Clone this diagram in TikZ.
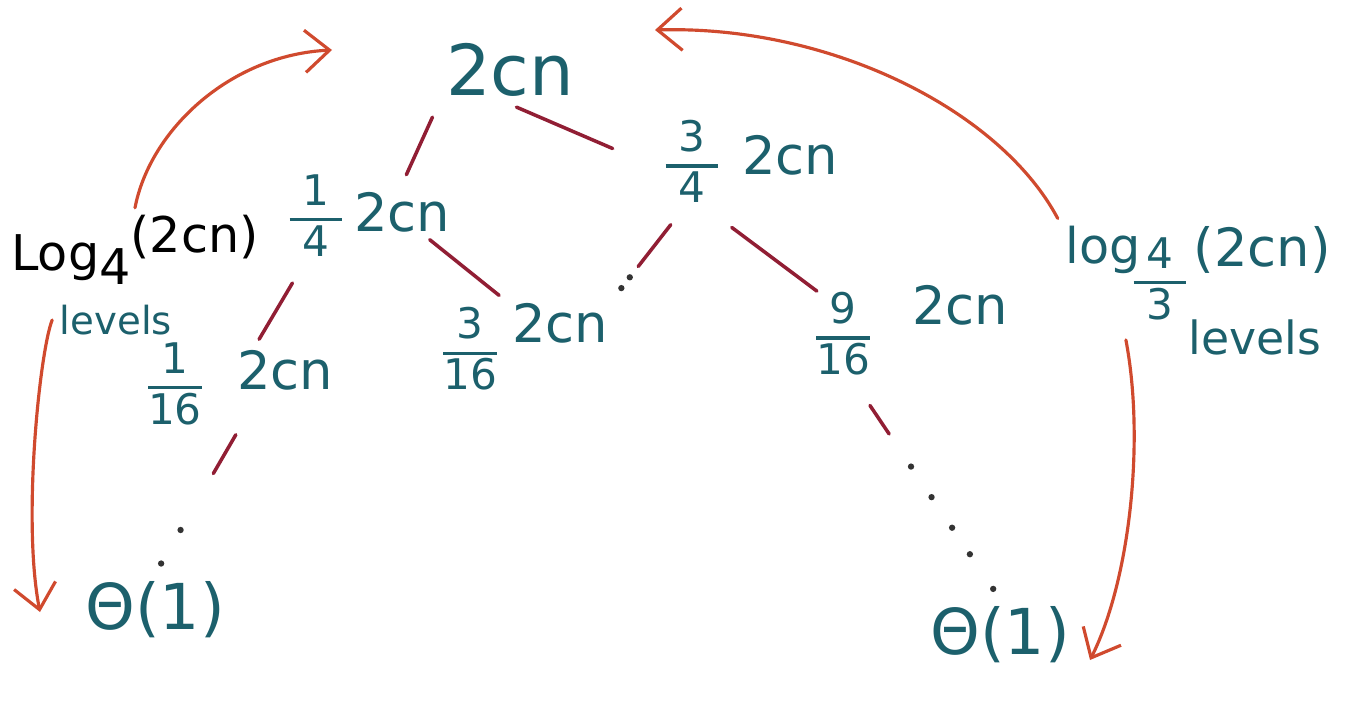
\documentclass[tikz,border=0pt]{standalone}
\usepackage{fontspec}
\setmainfont{DejaVu Sans}
\usetikzlibrary{arrows.meta,calc}
\definecolor{ink}{RGB}{28,96,108}
\definecolor{twig}{RGB}{145,30,52}
\definecolor{loop}{RGB}{208,74,46}
\setlength{\arrayrulewidth}{0.9pt}
\newcommand{\frc}[2]{\begin{tabular}{@{}c@{}}\makebox[15pt]{#1}\\\hline\rule{0pt}{10pt}#2\end{tabular}}
\begin{document}
\begin{tikzpicture}[x=0.01cm, y=0.01cm, line join=round, line cap=round,
		txt/.style={text=ink, inner sep=2pt},
		frac/.style={txt, font=\fontsize{12}{12}\selectfont},
		term/.style={txt, font=\fontsize{15}{17}\selectfont},
		edge/.style={draw=twig, line width=1pt},
		dotty/.style={fill=black!80},
		loopy/.style={draw=loop, line width=0.9pt, -{Straight Barb[length=7pt,width=12pt]}}]
	\useasboundingbox (0,0) rectangle (1346,-700);
	\node[txt, font=\fontsize{20}{24}\selectfont] (root) at (510,-70) {2cn};
	\foreach \nm/\fx/\fy/\tx/\ty/\a/\b in {q1/316/222/402/212/1/4, q2/692/168/790/155/3/4, q3/175/390/285/370/1/16, q4/470/355/560/323/3/16, q5/843/340/960/305/9/16} {
		\node[frac] (\nm-f) at (\fx,-\fy) {\frc{\a}{\b}};
		\node[term] (\nm-t) at (\tx,-\ty) {2cn};
	}
	\node[txt, font=\fontsize{18}{20}\selectfont] (thL) at (155,-610) {Θ(1)};
	\node[txt, font=\fontsize{18}{20}\selectfont] (thR) at (1000,-635) {Θ(1)};
	% level counts
	\node[font=\fontsize{14}{16}\selectfont, inner sep=2pt] (logL) at (135,-250) {Log\raisebox{-4pt}{4}\raisebox{5pt}{(2cn)}};
	\node[txt, font=\fontsize{11}{13}\selectfont] (lvlL) at (116,-320) {levels};
	\node[txt, font=\fontsize{14}{16}\selectfont] (lgR) at (1103,-250) {log};
	\node[frac] (lgfrac) at (1160,-285) {\frc{4}{3}};
	\node[txt, font=\fontsize{15}{17}\selectfont] (lgarg) at (1262,-250) {(2cn)};
	\node[txt, font=\fontsize{13}{15}\selectfont] (lvlR) at (1255,-337) {levels};
	\coordinate (upL) at (332,-50);
	\coordinate (downL) at (40,-612);
	\coordinate (upR) at (655,-30);
	\coordinate (downR) at (1090,-660);
	% tree edges
	\draw[edge, shorten <=4pt, shorten >=3pt] (root.south west) -- (q1-t.north);
	\draw[edge, shorten <=2pt, shorten >=14pt] (root.south) -- (q2-f.west);
	\draw[edge, shorten <=2pt, shorten >=1pt] (q1-f.250) -- (q3-t.135);
	\draw[edge, shorten >=2pt] (q1-t.-45) -- (q4-f.north east);
	\draw[edge, shorten >=-3pt, shorten <=2pt] (q2-f.south east) -- (q5-f.north west);
	\draw[edge] ($(q2-f.250)!.02!(q4-t.north east)$) -- ($(q2-f.250)!.6!(q4-t.north east)$);
	\draw[edge] ($(q3-t.-135)!.21!(thL.north)$) -- ($(q3-t.-135)!.43!(thL.north)$);
	\draw[edge] ($(q5-f.-70)!.05!(thR.north)$) -- ($(q5-f.-70)!.19!(thR.north)$);
	\foreach \t in {.75,.9} \fill[dotty] ($(q2-f.250)!\t!(q4-t.north east)$) circle (0.9pt);
	\foreach \t in {.75,.94} \fill[dotty] ($(q3-t.-135)!\t!(thL.north)$) circle (0.9pt);
	\foreach \t in {.35,.5,.65,.78,.95} \fill[dotty] ($(q5-f.-70)!\t!(thR.north)$) circle (0.9pt);
	% arrows
	\draw[loopy] (logL.north) .. controls (150,-130) and (230,-55) .. (upL);
	\draw[loopy] (lvlL.west) .. controls (40,-350) and (22,-520) .. (downL);
	\draw[loopy] (lgR.north west) .. controls (1000,-110) and (830,-25) .. (upR);
	\draw[loopy] (lgfrac.south west) .. controls (1145,-440) and (1130,-580) .. (downR);
\end{tikzpicture}
\end{document}
